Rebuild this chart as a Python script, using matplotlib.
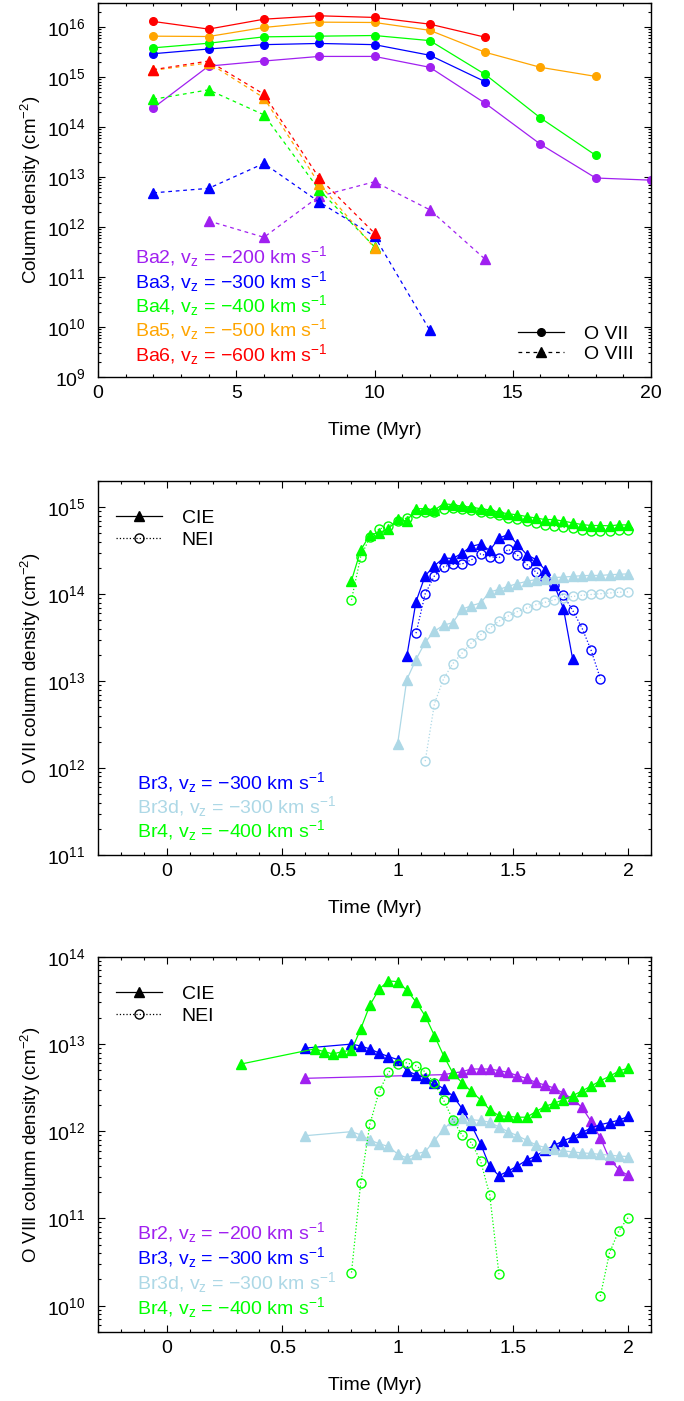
import numpy as np
import matplotlib
matplotlib.use("Agg")
import matplotlib.pyplot as plt
from matplotlib.lines import Line2D
from matplotlib.ticker import LogLocator, MultipleLocator, NullFormatter

plt.rcParams['font.family'] = ['Liberation Sans', 'DejaVu Sans']
plt.rcParams['mathtext.fontset'] = 'custom'
plt.rcParams['mathtext.rm'] = 'Liberation Sans'
plt.rcParams['mathtext.it'] = 'Liberation Sans:italic'
plt.rcParams['mathtext.default'] = 'regular'
plt.rcParams['font.size'] = 14

PURPLE = '#a020f0'
BLUE = '#0000ff'
GREEN = '#00ff00'
ORANGE = '#ffa500'
RED = '#ff0000'
LBLUE = '#add8e6'

# ---- panel 1: Ba runs, O VII / O VIII vs time ----
t_ba = [2, 4, 6, 8, 10, 12, 14, 16, 18, 20]

ba2_o7 = [2.4e14, 1.64e15, 2.07e15, 2.56e15, 2.56e15, 1.55e15, 2.97e14, 4.5e13, 9.5e12, 8.6e12]
ba3_o7 = [2.9e15, 3.6e15, 4.4e15, 4.65e15, 4.4e15, 2.7e15, 8.0e14]
ba4_o7 = [3.8e15, 4.7e15, 6.3e15, 6.5e15, 6.7e15, 5.3e15, 1.12e15, 1.51e14, 2.7e13]
ba5_o7 = [6.5e15, 6.4e15, 9.7e15, 1.24e16, 1.22e16, 8.5e15, 3.1e15, 1.55e15, 1.02e15]
ba6_o7 = [1.28e16, 9.0e15, 1.42e16, 1.66e16, 1.54e16, 1.13e16, 6.2e15]

ba2_o8 = [1.32e12, 6.2e11, 4.1e12, 8.0e12, 2.2e12, 2.26e11]   # from t=4
ba3_o8 = [4.8e12, 5.9e12, 1.86e13, 3.15e12, 6.5e11, 8.6e9]
ba4_o8 = [3.56e14, 5.5e14, 1.74e14, 5.5e12, 4.0e11]
ba5_o8 = [1.35e15, 1.9e15, 3.8e14, 7.2e12, 3.8e11]
ba6_o8 = [1.39e15, 2.07e15, 4.5e14, 9.5e12, 7.5e11]

ba_names = ['Ba2', 'Ba3', 'Ba4', 'Ba5', 'Ba6']
ba_vz = ['200', '300', '400', '500', '600']
ba_colors = [PURPLE, BLUE, GREEN, ORANGE, RED]

# ---- panels 2 and 3: Br runs ----
t_grid = [0.80, 0.84, 0.88, 0.92, 0.96, 1.00, 1.04, 1.08, 1.12, 1.16, 1.20,
          1.24, 1.28, 1.32, 1.36, 1.40, 1.44, 1.48, 1.52, 1.56, 1.60, 1.64,
          1.68, 1.72, 1.76, 1.80, 1.84, 1.88, 1.92, 1.96, 2.00]

# O VII
br4_o7_cie = [1.43e14, 3.2e14, 4.8e14, 5.1e14, 5.6e14, 7.3e14, 6.9e14, 9.6e14, 9.6e14, 9.3e14,
              1.09e15, 1.07e15, 1.02e15, 1.0e15, 9.6e14, 9.3e14, 8.75e14, 8.4e14, 8.15e14, 7.8e14,
              7.5e14, 7.2e14, 7.2e14, 6.9e14, 6.6e14, 6.3e14, 6.15e14, 6.15e14, 6.1e14, 6.25e14, 6.25e14]
br4_o7_nei = [8.6e13, 2.7e14, 4.5e14, 5.6e14, 6.0e14, 7.0e14, 7.5e14, 8.5e14, 8.9e14, 8.9e14,
              9.6e14, 9.7e14, 9.4e14, 9.2e14, 8.7e14, 8.5e14, 8.1e14, 7.6e14, 7.3e14, 6.9e14,
              6.6e14, 6.3e14, 6.05e14, 5.85e14, 5.7e14, 5.5e14, 5.35e14, 5.3e14, 5.3e14, 5.4e14, 5.5e14]
br3_o7_cie = [1.92e13, 8.2e13, 1.63e14, 2.12e14, 2.6e14, 2.57e14, 2.96e14, 3.55e14, 3.75e14, 3.18e14,
              4.4e14, 4.85e14, 3.75e14, 2.85e14, 2.5e14, 1.9e14, 1.28e14, 6.8e13, 1.78e13]   # 1.04-1.76
br3_o7_nei = [3.55e13, 1.01e14, 1.62e14, 2.06e14, 2.2e14, 2.22e14, 2.48e14, 2.9e14, 2.7e14, 2.62e14,
              3.28e14, 2.8e14, 2.2e14, 1.8e14, 1.5e14, 1.26e14, 9.65e13, 6.5e13, 4.1e13, 2.26e13,
              1.07e13]   # 1.08-1.88
br3d_o7_cie = [1.87e12, 1.04e13, 1.77e13, 2.8e13, 3.75e13, 4.4e13, 4.7e13, 6.7e13, 7.35e13, 7.9e13,
               1.06e14, 1.13e14, 1.23e14, 1.32e14, 1.4e14, 1.47e14, 1.5e14, 1.55e14, 1.57e14, 1.6e14,
               1.63e14, 1.64e14, 1.64e14, 1.67e14, 1.69e14, 1.71e14]   # 1.00-2.00
br3d_o7_nei = [1.2e12, 5.5e12, 1.07e13, 1.59e13, 2.1e13, 2.75e13, 3.4e13, 4.05e13, 4.9e13, 5.6e13,
               6.3e13, 6.9e13, 7.55e13, 8.05e13, 8.6e13, 9.1e13, 9.4e13, 9.7e13, 9.9e13, 1.01e14,
               1.03e14, 1.05e14, 1.06e14]   # 1.12-2.00

# O VIII
t_br2_o8 = [0.60] + t_grid[10:]
br2_o8_cie = [4.05e12, 4.46e12, 4.65e12, 4.82e12, 5.18e12, 5.18e12, 5.18e12, 4.96e12, 4.74e12, 4.34e12,
              4.04e12, 3.64e12, 3.39e12, 3.13e12, 2.72e12, 2.35e12, 1.88e12, 1.3e12, 8.4e11, 4.8e11,
              3.64e11, 3.12e11]
t_br3_o8 = [0.60] + t_grid
br3_o8_cie = [9.0e12, 1.0e13, 9.5e12, 8.8e12, 7.9e12, 7.2e12, 6.65e12, 4.95e12, 4.45e12, 4.1e12,
              3.6e12, 3.06e12, 2.55e12, 1.82e12, 1.18e12, 7.2e11, 3.95e11, 3.1e11, 3.5e11, 4.0e11,
              4.66e11, 5.2e11, 6.07e11, 6.9e11, 7.8e11, 8.6e11, 9.7e11, 1.09e12, 1.19e12, 1.26e12,
              1.34e12, 1.48e12]
br3d_o8_cie = [8.9e11, 9.9e11, 9.1e11, 7.95e11, 7.2e11, 6.7e11, 5.5e11, 4.95e11, 5.5e11, 5.85e11,
               7.8e11, 1.06e12, 1.33e12, 1.41e12, 1.36e12, 1.33e12, 1.27e12, 1.12e12, 9.9e11, 8.9e11,
               7.9e11, 7.0e11, 6.5e11, 6.2e11, 5.96e11, 5.8e11, 5.65e11, 5.57e11, 5.43e11, 5.33e11,
               5.2e11, 5.13e11]
t_br4_o8 = [0.32, 0.64, 0.68, 0.72, 0.76] + t_grid
br4_o8_cie = [5.9e12, 8.8e12, 8.2e12, 7.7e12, 8.2e12, 8.5e12, 1.49e13, 2.8e13, 4.27e13, 5.3e13,
              5.2e13, 4.15e13, 3.05e13, 2.1e13, 1.25e13, 7.35e12, 4.65e12, 3.6e12, 2.87e12, 2.3e12,
              1.77e12, 1.51e12, 1.48e12, 1.45e12, 1.45e12, 1.68e12, 1.93e12, 2.1e12, 2.3e12, 2.56e12,
              2.9e12, 3.3e12, 3.8e12, 4.27e12, 4.9e12, 5.3e12]
br4_o8_nei = [2.4e10, 2.55e11, 1.21e12, 2.86e12, 4.73e12, 5.9e12, 6.1e12, 5.64e12, 4.8e12, 3.57e12,
              2.27e12, 1.35e12, 9.0e11, 7.4e11, 4.6e11, 1.86e11, 2.3e10,
              np.nan, np.nan, np.nan, np.nan, np.nan, np.nan, np.nan, np.nan, np.nan, np.nan,
              1.29e10, 4.06e10, 7.2e10, 1.02e11]

ylab1 = 'Column density (cm$^{-2}$)'
ylab2 = 'O VII column density (cm$^{-2}$)'
ylab3 = 'O VIII column density (cm$^{-2}$)'


def label(name, vz):
    return name + ', v$_{z}$ = \u2212' + vz + ' km s$^{\u22121}$'


def style_axes(ax, xmin, xmax, ymin, ymax, xmajor, xminor):
    ax.set_yscale('log')
    ax.set_xlim(xmin, xmax)
    ax.set_ylim(ymin, ymax)
    ax.xaxis.set_major_locator(MultipleLocator(xmajor))
    ax.xaxis.set_minor_locator(MultipleLocator(xminor))
    ax.yaxis.set_major_locator(LogLocator(base=10, numticks=20))
    ax.yaxis.set_minor_locator(LogLocator(base=10, subs=np.arange(2, 10), numticks=20))
    ax.yaxis.set_minor_formatter(NullFormatter())
    ax.tick_params(which='both', direction='in', top=True, right=True, labelsize=14)
    ax.tick_params(axis='y', which='both', pad=9)
    ax.tick_params(axis='x', which='both', pad=6)
    ax.tick_params(which='major', length=5, width=0.8)
    ax.tick_params(which='minor', length=2.5, width=0.8)
    for s in ax.spines.values():
        s.set_linewidth(1.0)
    ax.set_xlabel('Time (Myr)', fontsize=14, labelpad=14)
    ax.yaxis.set_label_coords(-0.10, 0.5)


fig = plt.figure(figsize=(6.84, 14.01), dpi=100)
ax1 = fig.add_axes([0.1433, 0.7309, 0.8085, 0.2670])
ax2 = fig.add_axes([0.1433, 0.3897, 0.8085, 0.2670])
ax3 = fig.add_axes([0.1433, 0.0493, 0.8085, 0.2677])

# ---- panel 1 ----
o7_sets = [ba2_o7, ba3_o7, ba4_o7, ba5_o7, ba6_o7]
o8_sets = [ba2_o8, ba3_o8, ba4_o8, ba5_o8, ba6_o8]
for i in range(5):
    c = ba_colors[i]
    y7 = o7_sets[i]
    ax1.plot(t_ba[:len(y7)], y7, '-', color=c, lw=0.9, marker='o', ms=5.5)
for i in range(5):
    c = ba_colors[i]
    y8 = o8_sets[i]
    tt = t_ba[1:1 + len(y8)] if i == 0 else t_ba[:len(y8)]
    ax1.plot(tt, y8, '--', color=c, lw=0.9, dashes=(3, 3), marker='^', ms=6.5)

style_axes(ax1, 0, 20, 1e9, 3e16, 5, 1)
ax1.set_ylabel(ylab1, fontsize=13.5)
for i in range(5):
    ax1.text(0.067, 0.321 - 0.065 * i, label(ba_names[i], ba_vz[i]), color=ba_colors[i],
             transform=ax1.transAxes, fontsize=14, va='center', ha='left')
h1 = [Line2D([], [], color='k', lw=0.9, marker='o', ms=5.5),
      Line2D([], [], color='k', lw=0.9, ls='--', dashes=(3, 3), marker='^', ms=6.5)]
ax1.legend(h1, ['O VII', 'O VIII'], loc='lower right', frameon=False, fontsize=14,
           handlelength=2.4, handletextpad=1.0, labelspacing=0.15, bbox_to_anchor=(1.0, -0.01))

# ---- panel 2 ----
cie_kw = dict(ls='-', lw=0.9, marker='^', ms=6.5)
nei_kw = dict(ls=':', lw=0.9, marker='o', ms=6.5, mfc='none', mew=1.0)

ax2.plot(t_grid[6:25], br3_o7_cie, color=BLUE, **cie_kw)
ax2.plot(t_grid[7:28], br3_o7_nei, color=BLUE, mec=BLUE, **nei_kw)
ax2.plot(t_grid[5:], br3d_o7_cie, color=LBLUE, **cie_kw)
ax2.plot(t_grid[8:], br3d_o7_nei, color=LBLUE, mec=LBLUE, **nei_kw)
ax2.plot(t_grid, br4_o7_cie, color=GREEN, **cie_kw)
ax2.plot(t_grid, br4_o7_nei, color=GREEN, mec=GREEN, **nei_kw)

style_axes(ax2, -0.3, 2.1, 1e11, 2e15, 0.5, 0.1)
ax2.set_xticks([0, 0.5, 1, 1.5, 2])
ax2.set_xticklabels(['0', '0.5', '1', '1.5', '2'])
ax2.set_ylabel(ylab2, fontsize=13.5)
p2_names = ['Br3', 'Br3d', 'Br4']
p2_vz = ['300', '300', '400']
p2_colors = [BLUE, LBLUE, GREEN]
for i in range(3):
    ax2.text(0.07, 0.195 - 0.065 * i, label(p2_names[i], p2_vz[i]), color=p2_colors[i],
             transform=ax2.transAxes, fontsize=14, va='center', ha='left')

h2 = [Line2D([], [], color='k', **cie_kw),
      Line2D([], [], color='k', mec='k', **nei_kw)]
ax2.legend(h2, ['CIE', 'NEI'], loc='upper left', frameon=False, fontsize=14,
           handlelength=2.4, handletextpad=1.0, labelspacing=0.2, bbox_to_anchor=(0.0, 0.97))

# ---- panel 3 ----
ax3.plot(t_br2_o8, br2_o8_cie, color=PURPLE, **cie_kw)
ax3.plot(t_br3_o8, br3_o8_cie, color=BLUE, **cie_kw)
ax3.plot(t_br3_o8, br3d_o8_cie, color=LBLUE, **cie_kw)
ax3.plot(t_br4_o8, br4_o8_cie, color=GREEN, **cie_kw)
ax3.plot(t_grid, br4_o8_nei, color=GREEN, mec=GREEN, **nei_kw)

style_axes(ax3, -0.3, 2.1, 5e9, 1e14, 0.5, 0.1)
ax3.set_xticks([0, 0.5, 1, 1.5, 2])
ax3.set_xticklabels(['0', '0.5', '1', '1.5', '2'])
ax3.set_ylabel(ylab3, fontsize=13.5)
p3_names = ['Br2', 'Br3', 'Br3d', 'Br4']
p3_vz = ['200', '300', '300', '400']
p3_colors = [PURPLE, BLUE, LBLUE, GREEN]
for i in range(4):
    ax3.text(0.07, 0.264 - 0.066 * i, label(p3_names[i], p3_vz[i]), color=p3_colors[i],
             transform=ax3.transAxes, fontsize=14, va='center', ha='left')

ax3.legend(h2, ['CIE', 'NEI'], loc='upper left', frameon=False, fontsize=14,
           handlelength=2.4, handletextpad=1.0, labelspacing=0.2, bbox_to_anchor=(0.0, 0.97))

fig.savefig('out.png', dpi=100)
